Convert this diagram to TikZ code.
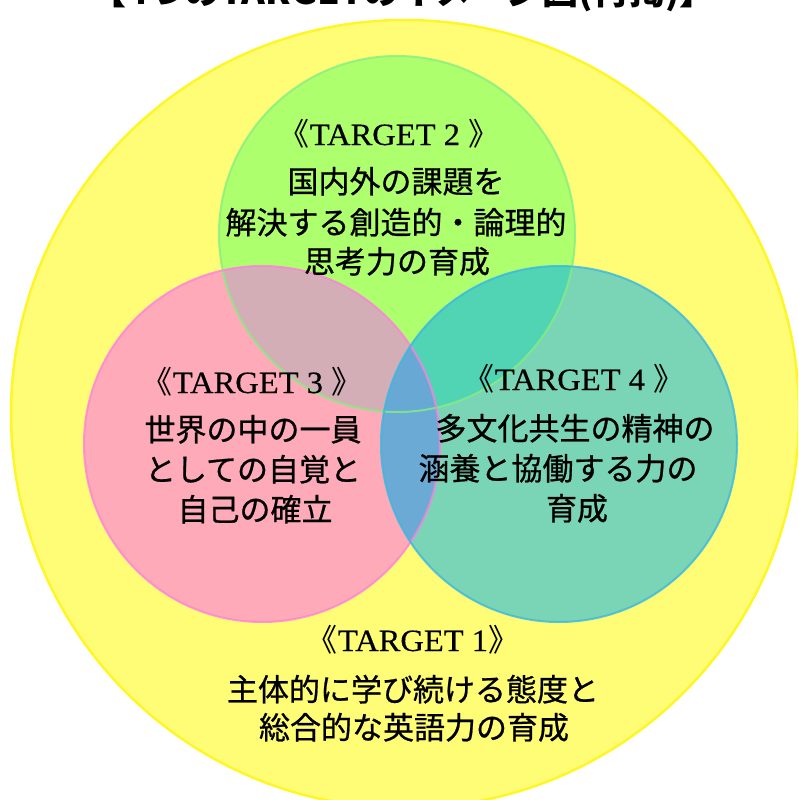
\documentclass[tikz,border=0pt]{standalone}
\usepackage{fontspec}
\setmainfont{Liberation Serif}
\newfontfamily\cjk{Noto Sans CJK JP}
\newfontfamily\cjkm[FakeBold=0.7]{Noto Sans CJK JP}
\newfontfamily\tgt[FakeStretch=1.05,FakeBold=0.4]{Liberation Serif}
\definecolor{yfill}{RGB}{255,253,118}
\definecolor{yline}{RGB}{255,246,40}
\definecolor{gfill}{RGB}{174,255,110}
\definecolor{gline}{RGB}{132,238,130}
\definecolor{pfill}{RGB}{255,170,185}
\definecolor{pline}{RGB}{255,128,222}
\definecolor{tfill}{RGB}{122,212,182}
\definecolor{tline}{RGB}{58,184,226}
\definecolor{gpfill}{RGB}{212,174,182}
\definecolor{gtfill}{RGB}{80,212,180}
\definecolor{ptfill}{RGB}{108,170,214}
\definecolor{gptfill}{RGB}{104,168,212}
\begin{document}
\begin{tikzpicture}[x=1pt,y=-1pt,
  jp/.style={font=\cjkm\fontsize{31}{31}\selectfont, inner sep=0pt, anchor=base, text=black},
  tg/.style={font=\fontsize{31}{31}\selectfont, inner sep=0pt, anchor=base, text=black},
  ttl/.style={font=\cjk\bfseries\fontsize{36}{36}\selectfont, inner sep=0pt, anchor=base, text=black},
  border/.style={line width=2pt, opacity=0.8}]
\useasboundingbox (0,0) rectangle (798,800);
\fill[white] (0,0) rectangle (798,800);
\clip (0,0) rectangle (798,800);
% circles
\def\GC{(397,234) circle[radius=178]}
\def\PC{(262,444) circle[radius=178]}
\def\TC{(559,444) circle[radius=178]}
\filldraw[fill=yfill, draw=yline, line width=2.5pt] (405,414) circle[radius=394];
\fill[gfill] \GC;
\fill[pfill] \PC;
\fill[tfill] \TC;
\begin{scope}\clip \GC; \fill[gpfill] \PC; \end{scope}
\begin{scope}\clip \GC; \fill[gtfill] \TC; \end{scope}
\begin{scope}\clip \PC; \fill[ptfill] \TC; \end{scope}
\begin{scope}\clip \GC; \clip \PC; \fill[gptfill] \TC; \end{scope}
\draw[border, draw=gline] \GC;
\draw[border, draw=pline] \PC;
\draw[border, draw=tline] \TC;
% title (cut off at top)
\node[ttl] (title) at (403,5) {【4つのTARGETのイメージ図(再掲)】};
% TARGET 2
\node[tg] (t2) at (389,145) {{\cjk 《}{\tgt TARGET 2 }{\cjk 》}};
\node[jp] (t2a) at (396,193) {国内外の課題を};
\node[jp] (t2b) at (396,234) {解決する創造的・論理的};
\node[jp] (t2c) at (397,273) {思考力の育成};
% TARGET 3
\node[tg] (t3) at (252,393) {{\cjk 《}{\tgt TARGET 3 }{\cjk 》}};
\node[jp] (t3a) at (253,441) {世界の中の一員};
\node[jp] (t3b) at (253,481) {としての自覚と};
\node[jp] (t3c) at (255,521) {自己の確立};
% TARGET 4
\node[tg] (t4) at (574,390) {{\cjk 《}{\tgt TARGET 4 }{\cjk 》}};
\node[jp] (t4a) at (575,440) {多文化共生の精神の};
\node[jp] (t4b) at (558,480) {涵養と協働する力の};
\node[jp] (t4c) at (577,520) {育成};
% TARGET 1
\node[tg] (t1) at (413,651) {{\cjk 《}{\tgt TARGET 1}{\cjk 》}};
\node[jp] (t1a) at (413,701) {主体的に学び続ける態度と};
\node[jp] (t1b) at (414,739) {総合的な英語力の育成};
\end{tikzpicture}
\end{document}
